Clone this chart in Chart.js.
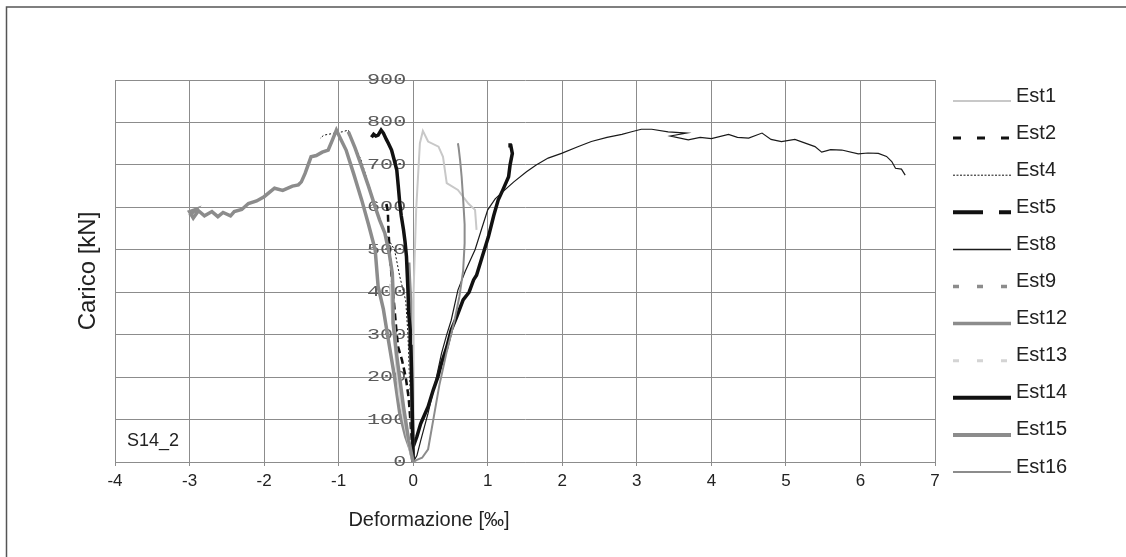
<!DOCTYPE html>
<html><head><meta charset="utf-8">
<script src="https://cdn.jsdelivr.net/npm/chart.js@4.4.1/dist/chart.umd.min.js"></script>
<style>html,body{margin:0;padding:0;background:#fff;}</style>
</head><body>
<canvas id="c" width="1126" height="557"></canvas>
<script>
// ---- data (deformation ‰ , load kN) ----
const seriesNames = ['Est1','Est2','Est4','Est5','Est8','Est9','Est12','Est13','Est14','Est15','Est16'];

const est1X = [0, 0.0, 0.01, 0.01, 0.0, 0.04, 0.09, 0.13, 0.2, 0.34, 0.4, 0.45, 0.6, 0.74, 0.83, 0.85];
const est1Y = [0, 100, 200, 300, 400, 594, 751, 780, 755, 743, 719, 657, 641, 609, 594, 547];

const est2X = [0, -0.03, -0.06, -0.1, -0.15, -0.2, -0.22, -0.24, -0.27, -0.29, -0.31, -0.33, -0.34, -0.36];
const est2Y = [0, 80, 150, 200, 240, 270, 300, 340, 400, 440, 480, 540, 590, 610];

const est4X = [0, -0.02, -0.05, -0.07, -0.1, -0.18, -0.25, -0.35, -0.43, -0.56, -0.7, -0.8, -0.87, -0.95, -1.05, -1.2, -1.25];
const est4Y = [0, 100, 200, 300, 380, 437, 500, 530, 563, 633, 712, 750, 782, 778, 775, 770, 762];

const est5X = [0, 0.05, 0.1, 0.15, 0.2, 0.27, 0.33, 0.38, 0.45, 0.51, 0.58, 0.67, 0.75, 0.81, 0.85, 0.92, 1.01, 1.08, 1.14, 1.2, 1.25, 1.28, 1.3, 1.33, 1.31, 1.3];
const est5Y = [36, 60, 90, 110, 130, 170, 200, 233, 270, 311, 340, 382, 400, 429, 440, 480, 531, 580, 617, 640, 660, 672, 700, 727, 745, 751];

const est8X = [0, 0.05, 0.1, 0.2, 0.3, 0.38, 0.45, 0.51, 0.6, 0.7, 0.83, 0.92, 1.0, 1.1, 1.23, 1.35, 1.52, 1.65, 1.81, 1.99, 2.2, 2.39, 2.6, 2.8, 2.93, 3.06, 3.2, 3.42, 3.67, 3.45, 3.69, 3.85, 4.0, 4.23, 4.35, 4.5, 4.68, 4.8, 4.94, 5.12, 5.25, 5.39, 5.48, 5.6, 5.75, 5.97, 6.1, 6.24, 6.35, 6.42, 6.47, 6.55, 6.6];
const est8Y = [0, 15, 50, 115, 190, 256, 300, 334, 405, 450, 500, 550, 594, 620, 641, 660, 684, 700, 716, 727, 742, 755, 765, 772, 778, 784, 784, 778, 775, 768, 759, 765, 762, 772, 765, 763, 775, 760, 755, 760, 752, 743, 730, 736, 735, 726, 728, 727, 720, 708, 692, 690, 676];

const est9X = [0, -0.01, -0.02, -0.03, -0.03, -0.04, -0.05, -0.06];
const est9Y = [0, 80, 160, 240, 320, 380, 430, 470];

const est12X = [0, -0.04, -0.1, -0.18, -0.25, -0.34, -0.4, -0.47, -0.51, -0.6, -0.69, -0.8, -0.9, -0.97, -1.03, -1.08, -1.14, -1.22, -1.3, -1.37, -1.45, -1.5, -1.54, -1.62, -1.75, -1.86, -2.0, -2.1, -2.21, -2.3, -2.4, -2.45, -2.55, -2.62, -2.7, -2.8, -2.88, -2.95, -3.0, -2.92, -3.0];
const est12Y = [0, 30, 60, 115, 200, 295, 360, 413, 500, 560, 617, 680, 735, 760, 782, 760, 735, 730, 722, 719, 680, 660, 653, 650, 640, 645, 625, 615, 609, 595, 590, 580, 588, 578, 590, 580, 592, 575, 590, 595, 580];

const est13X = [0, -0.05, -0.12, -0.18, -0.22, -0.25, -0.28, -0.3];
const est13Y = [0, 40, 100, 160, 230, 300, 360, 420];

const est14X = [0, -0.01, -0.02, -0.03, -0.04, -0.06, -0.07, -0.09, -0.11, -0.13, -0.16, -0.18, -0.2, -0.22, -0.26, -0.29, -0.33, -0.36, -0.4, -0.43, -0.47, -0.5, -0.53, -0.56];
const est14Y = [0, 100, 200, 272, 311, 350, 405, 484, 520, 547, 580, 610, 650, 688, 715, 735, 750, 760, 775, 782, 770, 768, 772, 765];

const est15X = [0, -0.06, -0.13, -0.22, -0.27, -0.27, -0.28, -0.32, -0.38, -0.45, -0.51, -0.6, -0.69, -0.78, -0.85, -0.87];
const est15Y = [0, 50, 130, 250, 327, 400, 445, 490, 539, 570, 601, 650, 696, 740, 770, 778];

const est16X = [0, 0.05, 0.12, 0.2, 0.27, 0.35, 0.45, 0.55, 0.62, 0.67, 0.69, 0.69, 0.67, 0.65, 0.63, 0.61, 0.6];
const est16Y = [0, 5, 10, 30, 100, 180, 260, 330, 390, 450, 515, 560, 620, 672, 710, 740, 751];

const xTickMin = -4, xTickMax = 7, yTickMin = 0, yTickMax = 900;

// ---- styles ----
const styles = {
  Est1:  {color:'#c8c8c8', width:2,   dash:[],    legendWidth:2,   legendDash:[]},
  Est2:  {color:'#111111', width:2.5, dash:[7,4], legendWidth:3,   legendDash:[8,16]},
  Est4:  {color:'#111111', width:1,   dash:[2,2], legendWidth:1,   legendDash:[2,1.5]},
  Est5:  {color:'#111111', width:3.5, dash:[],    legendWidth:4,   legendDash:[30,16]},
  Est8:  {color:'#1a1a1a', width:1.2, dash:[],    legendWidth:1.5, legendDash:[]},
  Est9:  {color:'#8c8c8c', width:3.5, dash:[],    legendWidth:3.5, legendDash:[6,18]},
  Est12: {color:'#8c8c8c', width:3.5, dash:[],    legendWidth:3.5, legendDash:[]},
  Est13: {color:'#d4d4d4', width:3.5, dash:[],    legendWidth:3,   legendDash:[6,18]},
  Est14: {color:'#111111', width:3.5, dash:[],    legendWidth:4,   legendDash:[]},
  Est15: {color:'#8c8c8c', width:3.5, dash:[],    legendWidth:4,   legendDash:[]},
  Est16: {color:'#8c8c8c', width:2,   dash:[],    legendWidth:2,   legendDash:[]}
};

const seriesX = [est1X, est2X, est4X, est5X, est8X, est9X, est12X, est13X, est14X, est15X, est16X];
const seriesY = [est1Y, est2Y, est4Y, est5Y, est8Y, est9Y, est12Y, est13Y, est14Y, est15Y, est16Y];

const datasets = seriesNames.map((name, i) => {
  const s = styles[name];
  return {
    label: name,
    data: seriesX[i].map((x, k) => ({x: x, y: seriesY[i][k]})),
    borderColor: s.color,
    backgroundColor: s.color,
    borderWidth: s.width,
    borderDash: s.dash,
    pointRadius: 0,
    pointHoverRadius: 0,
    showLine: true,
    fill: false,
    tension: 0,
    order: -i,
    legendWidth: s.legendWidth,
    legendDash: s.legendDash
  };
});

const decor = {
  id: 'decor',
  beforeDraw(chart) {
    const ctx = chart.ctx;
    ctx.save();
    ctx.fillStyle = '#ffffff';
    ctx.fillRect(0, 0, chart.width, chart.height);
    ctx.strokeStyle = '#555555';
    ctx.lineWidth = 1.5;
    ctx.beginPath();
    ctx.moveTo(6.5, chart.height);
    ctx.lineTo(6.5, 7);
    ctx.lineTo(chart.width, 7);
    ctx.stroke();
    ctx.restore();
  },
  beforeDatasetsDraw(chart) {
    const ctx = chart.ctx;
    const xs = chart.scales.x, ys = chart.scales.y;
    const px = xs.getPixelForValue(0) - 7;
    ctx.save();
    ctx.fillStyle = '#5a5a5a';
    ctx.font = '15px "Liberation Mono"';
    ctx.textAlign = 'right';
    ctx.textBaseline = 'middle';
    ys.ticks.forEach(t => {
      const py = ys.getPixelForValue(t.value);
      ctx.save();
      ctx.translate(px, py);
      ctx.scale(1.45, 1);
      ctx.fillText(String(t.value), 0, 0);
      ctx.restore();
    });
    ctx.restore();
  },
  afterDraw(chart) {
    const ctx = chart.ctx;
    const area = chart.chartArea;
    ctx.save();
    ctx.fillStyle = '#222222';
    ctx.textBaseline = 'middle';
    // x axis title
    ctx.font = '20px "Liberation Sans"';
    ctx.textAlign = 'center';
    ctx.fillText('Deformazione [‰]', 429, 520);
    // sample label
    ctx.font = '18px "Liberation Sans"';
    ctx.textAlign = 'left';
    ctx.fillText('S14_2', area.left + 12, 441);
    // legend
    const lx0 = area.right + 18, lx1 = area.right + 76, tx = area.right + 81;
    ctx.font = '20px "Liberation Sans"';
    chart.data.datasets.forEach((ds, i) => {
      const ty = 96 + i * 37.1;
      const ly = ty + 5;
      ctx.strokeStyle = ds.borderColor;
      ctx.lineWidth = ds.legendWidth;
      ctx.setLineDash(ds.legendDash);
      ctx.lineCap = 'butt';
      ctx.beginPath();
      ctx.moveTo(lx0, ly);
      ctx.lineTo(lx1, ly);
      ctx.stroke();
      ctx.setLineDash([]);
      ctx.fillStyle = '#222222';
      ctx.fillText(ds.label, tx, ty);
    });
    ctx.restore();
  }
};

new Chart(document.getElementById('c'), {
  type: 'scatter',
  data: { datasets: datasets },
  plugins: [decor],
  options: {
    responsive: false,
    animation: false,
    events: [],
    layout: { padding: { top: 80, right: 191, left: 0, bottom: 0 } },
    plugins: { legend: { display: false }, tooltip: { enabled: false } },
    scales: {
      x: {
        type: 'linear', min: xTickMin, max: xTickMax,
        afterFit(s) { s.height = 95; },
        ticks: { stepSize: 1, color: '#222222', font: { family: 'Liberation Sans', size: 17 }, padding: 5 },
        grid: { color: '#8c8c8c', lineWidth: 1, tickLength: 4, drawTicks: true },
        border: { color: '#8c8c8c' },
        title: { display: false }
      },
      y: {
        type: 'linear', min: yTickMin, max: yTickMax,
        afterFit(s) { s.width = 115; },
        ticks: { stepSize: 100, display: false },
        grid: { color: '#8c8c8c', lineWidth: 1, drawTicks: false },
        border: { color: '#8c8c8c' },
        title: { display: true, text: 'Carico [kN]', color: '#222222', font: { family: 'Liberation Sans', size: 24 }, padding: { top: 74, bottom: 0 } }
      }
    }
  }
});
</script>
</body></html>
